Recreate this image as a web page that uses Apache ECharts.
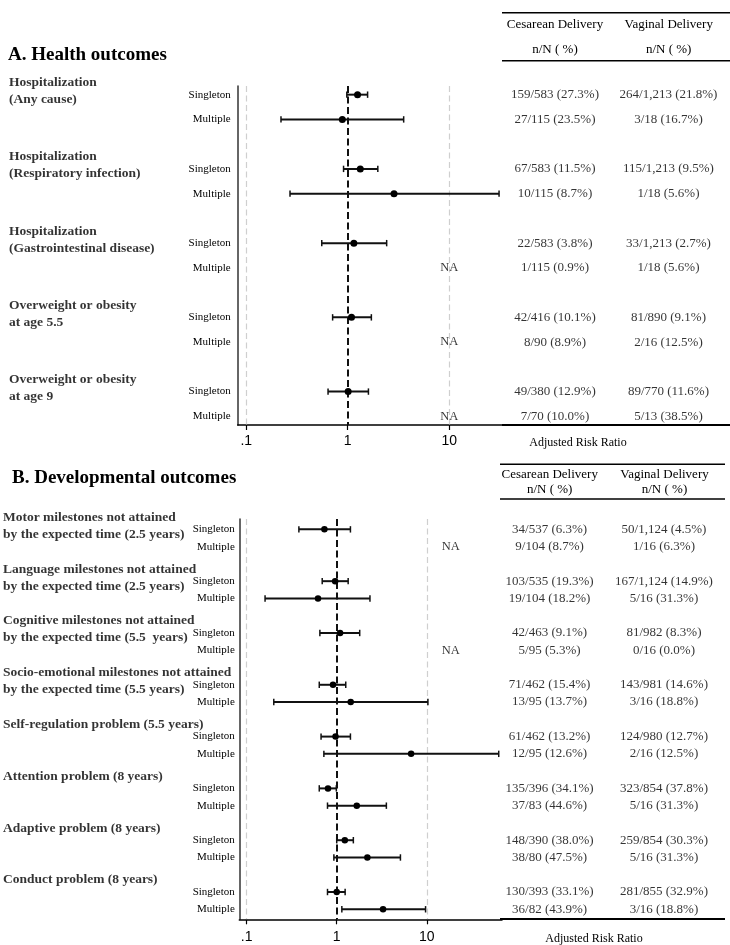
<!DOCTYPE html>
<html lang="en">
<head>
<meta charset="UTF-8">
<script src="https://cdn.jsdelivr.net/npm/echarts@6.0.0/dist/echarts.min.js"></script>
<title>Forest plot</title>
<style>
    html, body { margin: 0; padding: 0; background: #fff; }
    #main { width: 730px; height: 945px; }
</style>
</head>
<body>
<div id="main"></div>
<script type="text/javascript">
    // x axis ticks (risk ratio, log scale)
    var tickValues = [0.1, 1, 10];
    var tickLabels = ['.1', '1', '10'];
    var deliveryGroups = ['Cesarean Delivery', 'Vaginal Delivery'];

    // A. Health outcomes
    var healthOutcomes = ['Hospitalization\n(Any cause)', 'Hospitalization\n(Respiratory infection)',
        'Hospitalization\n(Gastrointestinal disease)', 'Overweight or obesity\nat age 5.5', 'Overweight or obesity\nat age 9'];
    var healthSingletonRR = [1.25, 1.33, 1.15, 1.09, 1.01];
    var healthSingletonLow = [0.98, 0.91, 0.555, 0.71, 0.64];
    var healthSingletonHigh = [1.57, 1.98, 2.42, 1.71, 1.60];
    var healthMultipleRR = [0.885, 2.86, null, null, null];
    var healthMultipleLow = [0.22, 0.27, null, null, null];
    var healthMultipleHigh = [3.56, 31, null, null, null];
    var healthCesSingleton = ['159/583 (27.3%)', '67/583 (11.5%)', '22/583 (3.8%)', '42/416 (10.1%)', '49/380 (12.9%)'];
    var healthCesMultiple = ['27/115 (23.5%)', '10/115 (8.7%)', '1/115 (0.9%)', '8/90 (8.9%)', '7/70 (10.0%)'];
    var healthVagSingleton = ['264/1,213 (21.8%)', '115/1,213 (9.5%)', '33/1,213 (2.7%)', '81/890 (9.1%)', '89/770 (11.6%)'];
    var healthVagMultiple = ['3/18 (16.7%)', '1/18 (5.6%)', '1/18 (5.6%)', '2/16 (12.5%)', '5/13 (38.5%)'];

    // B. Developmental outcomes
    var devOutcomes = ['Motor milestones not attained\nby the expected time (2.5 years)',
        'Language milestones not attained\nby the expected time (2.5 years)',
        'Cognitive milestones not attained\nby the expected time (5.5  years)',
        'Socio-emotional milestones not attained\nby the expected time (5.5 years)',
        'Self-regulation problem (5.5 years)', 'Attention problem (8 years)',
        'Adaptive problem (8 years)', 'Conduct problem (8 years)'];
    var devSingletonRR = [0.73, 0.96, 1.09, 0.91, 0.97, 0.80, 1.23, 1.00];
    var devSingletonLow = [0.38, 0.69, 0.65, 0.64, 0.67, 0.64, 1.00, 0.79];
    var devSingletonHigh = [1.42, 1.34, 1.80, 1.26, 1.42, 0.99, 1.53, 1.24];
    var devMultipleRR = [null, 0.62, null, 1.43, 6.7, 1.67, 2.19, 3.27];
    var devMultipleLow = [null, 0.16, null, 0.20, 0.72, 0.79, 0.93, 1.14];
    var devMultipleHigh = [null, 2.34, null, 10.3, 63, 3.56, 5.1, 9.7];
    var devCesSingleton = ['34/537 (6.3%)', '103/535 (19.3%)', '42/463 (9.1%)', '71/462 (15.4%)',
        '61/462 (13.2%)', '135/396 (34.1%)', '148/390 (38.0%)', '130/393 (33.1%)'];
    var devCesMultiple = ['9/104 (8.7%)', '19/104 (18.2%)', '5/95 (5.3%)', '13/95 (13.7%)',
        '12/95 (12.6%)', '37/83 (44.6%)', '38/80 (47.5%)', '36/82 (43.9%)'];
    var devVagSingleton = ['50/1,124 (4.5%)', '167/1,124 (14.9%)', '81/982 (8.3%)', '143/981 (14.6%)',
        '124/980 (12.7%)', '323/854 (37.8%)', '259/854 (30.3%)', '281/855 (32.9%)'];
    var devVagMultiple = ['1/16 (6.3%)', '5/16 (31.3%)', '0/16 (0.0%)', '3/16 (18.8%)',
        '2/16 (12.5%)', '5/16 (31.3%)', '5/16 (31.3%)', '3/16 (18.8%)'];

    var SERIF = '"Liberation Serif", "Times New Roman", serif';
    var SANS = '"Liberation Sans Narrow", "Liberation Sans", Arial, sans-serif';

    function lg(v) { return v == null ? null : Math.log10(v); }

    var grids = [], xAxes = [], yAxes = [], series = [], graphics = [];

    function addPanel(p) {
        var g = grids.length;
        // plot, table, outcome label columns share one row scale
        grids.push({left: p.plotLeft, top: p.top, width: p.plotWidth, height: p.height, outerBoundsMode: 'none'});
        grids.push({left: p.tableLeft, top: p.top, width: p.tableWidth, height: p.height, outerBoundsMode: 'none'});
        grids.push({left: 0, top: p.top, width: 20, height: p.height, outerBoundsMode: 'none'});

        var rows = [];
        p.outcomes.forEach(function (o, i) { rows.push(3 * i, 3 * i + 1); });

        xAxes.push({
            gridIndex: g, type: 'value', min: lg(p.xMin), max: lg(p.xMax),
            axisLine: {show: true, onZero: false, lineStyle: {color: '#000', width: 1.5}},
            axisTick: {show: true, customValues: tickValues.map(lg), length: 5, lineStyle: {color: '#000', width: 1.2}},
            axisLabel: {
                customValues: tickValues.map(lg), margin: p.tickMargin,
                fontFamily: SANS, fontSize: 14, color: '#000',
                formatter: function (v) {
                    for (var k = 0; k < tickValues.length; k++) {
                        if (Math.abs(lg(tickValues[k]) - v) < 1e-6) return tickLabels[k];
                    }
                    return '';
                }
            },
            splitLine: {show: false}
        });
        xAxes.push({gridIndex: g + 1, type: 'category', data: deliveryGroups, show: false});
        xAxes.push({gridIndex: g + 2, type: 'value', min: 0, max: 1, show: false});

        yAxes.push({
            gridIndex: g, type: 'value', inverse: true, min: p.yMin, max: p.yMax,
            axisLine: {show: true, onZero: false, lineStyle: {color: '#333', width: 1.5}},
            axisTick: {show: false},
            splitLine: {show: false},
            axisLabel: {
                customValues: rows, margin: p.rowLabelMargin,
                fontFamily: SERIF, fontSize: 11, color: '#000',
                formatter: function (v) { return v % 3 === 0 ? 'Singleton' : 'Multiple'; }
            }
        });
        yAxes.push({gridIndex: g + 1, type: 'value', inverse: true, min: p.yMin, max: p.yMax, show: false});
        yAxes.push({gridIndex: g + 2, type: 'value', inverse: true, min: p.yMin, max: p.yMax, show: false});

        var bars = [], points = [], na = [], cells = [], titles = [];
        p.outcomes.forEach(function (o, i) {
            bars.push([lg(p.sLow[i]), lg(p.sHigh[i]), 3 * i]);
            points.push([lg(p.sRR[i]), 3 * i]);
            if (p.mRR[i] != null) {
                bars.push([lg(p.mLow[i]), lg(p.mHigh[i]), 3 * i + 1]);
                points.push([lg(p.mRR[i]), 3 * i + 1]);
            } else {
                na.push([lg(p.naX), 3 * i + 1]);
            }
            cells.push({name: p.cesS[i], value: [0, 3 * i]});
            cells.push({name: p.cesM[i], value: [0, 3 * i + 1]});
            cells.push({name: p.vagS[i], value: [1, 3 * i]});
            cells.push({name: p.vagM[i], value: [1, 3 * i + 1]});
            titles.push({name: o, value: [0, 3 * i]});
        });

        series.push({
            type: 'custom', xAxisIndex: g, yAxisIndex: g, z: 3, silent: true,
            encode: {x: [0, 1], y: 2},
            data: bars,
            renderItem: function (params, api) {
                var y = api.value(2);
                var a = api.coord([api.value(0), y]);
                var b = api.coord([api.value(1), y]);
                var h = 3.2;
                var st = {stroke: '#111', lineWidth: 2};
                return {
                    type: 'group',
                    children: [
                        {type: 'line', shape: {x1: a[0], y1: a[1], x2: b[0], y2: b[1]}, style: st},
                        {type: 'line', shape: {x1: a[0], y1: a[1] - h, x2: a[0], y2: a[1] + h}, style: {stroke: '#111', lineWidth: 1.5}},
                        {type: 'line', shape: {x1: b[0], y1: b[1] - h, x2: b[0], y2: b[1] + h}, style: {stroke: '#111', lineWidth: 1.5}}
                    ]
                };
            },
            markLine: {
                silent: true, symbol: 'none', z: 1, label: {show: false}, animation: false,
                data: [
                    {xAxis: lg(tickValues[0]), lineStyle: {color: '#cfcfcf', width: 1.2, type: [6, 3.5]}},
                    {xAxis: lg(tickValues[2]), lineStyle: {color: '#cfcfcf', width: 1.2, type: [6, 3.5]}},
                    {xAxis: lg(tickValues[1]), lineStyle: {color: '#111', width: 2, type: [7, 3.5]}}
                ]
            }
        });
        series.push({
            type: 'scatter', xAxisIndex: g, yAxisIndex: g, z: 4, silent: true,
            symbolSize: p.pointSize, itemStyle: {color: '#000', opacity: 1},
            data: points
        });
        series.push({
            type: 'scatter', xAxisIndex: g, yAxisIndex: g, z: 4, silent: true,
            symbolSize: 1, itemStyle: {color: 'rgba(0,0,0,0)'},
            label: {show: true, position: 'inside', formatter: 'NA', fontFamily: SERIF, fontSize: 12.5, color: '#000'},
            data: na
        });
        series.push({
            type: 'scatter', xAxisIndex: g + 1, yAxisIndex: g + 1, silent: true,
            symbolSize: 1, itemStyle: {color: 'rgba(0,0,0,0)'},
            label: {show: true, position: 'inside', formatter: '{b}', fontFamily: SERIF, fontSize: 13, color: '#000'},
            data: cells
        });
        series.push({
            type: 'scatter', xAxisIndex: g + 2, yAxisIndex: g + 2, silent: true,
            symbolSize: 1, itemStyle: {color: 'rgba(0,0,0,0)'},
            label: {
                show: true, position: 'inside', formatter: '{b}', align: 'left', verticalAlign: 'top',
                offset: [p.titleX, -20.5], lineHeight: 17,
                fontFamily: SERIF, fontWeight: 'bold', fontSize: 13.5, color: '#000'
            },
            data: titles
        });

        // panel heading, table header and rules
        text(p.headX, p.headY, p.heading, 'bold 19px ' + SERIF, 'left');
        hline(p.ruleLeft, p.ruleRight, p.rule1, 1.5);
        hline(p.ruleLeft, p.ruleRight, p.rule2, 1.5);
        hline(p.ruleLeft, p.ruleRight, p.rule3, 2);
        deliveryGroups.forEach(function (d, k) {
            text(p.colX[k], p.hdrY[0], d, '13px ' + SERIF, 'center');
            text(p.colX[k], p.hdrY[1], 'n/N ( %)', '13px ' + SERIF, 'center');
        });
        text(p.xNameX, p.xNameY, 'Adjusted Risk Ratio', '12px ' + SERIF, 'center');
    }

    function hline(x1, x2, y, w) {
        graphics.push({type: 'line', silent: true, shape: {x1: x1, y1: y, x2: x2, y2: y}, style: {stroke: '#000', lineWidth: w}});
    }

    function text(x, y, t, font, align) {
        graphics.push({
            type: 'text', silent: true, x: x, y: y,
            style: {text: t, font: font, fill: '#000', align: align, textAlign: align, verticalAlign: 'middle', textVerticalAlign: 'middle'}
        });
    }

    addPanel({
        heading: 'A. Health outcomes', headX: 8, headY: 55,
        outcomes: healthOutcomes,
        sRR: healthSingletonRR, sLow: healthSingletonLow, sHigh: healthSingletonHigh,
        mRR: healthMultipleRR, mLow: healthMultipleLow, mHigh: healthMultipleHigh,
        cesS: healthCesSingleton, cesM: healthCesMultiple, vagS: healthVagSingleton, vagM: healthVagMultiple,
        plotLeft: 237.7, plotWidth: 265.3, top: 86, height: 339,
        xMin: 0.0824, xMax: 33.9, yMin: -0.35, yMax: 13.35,
        tableLeft: 498.2, tableWidth: 227,
        naX: 10, pointSize: 7, titleX: 9, rowLabelMargin: 7, tickMargin: 9,
        ruleLeft: 502, ruleRight: 730, rule1: 12.7, rule2: 60.7, rule3: 425,
        colX: [555, 668.7], hdrY: [25, 50],
        xNameX: 578, xNameY: 443
    });

    addPanel({
        heading: 'B. Developmental outcomes', headX: 12, headY: 477.7,
        outcomes: devOutcomes,
        sRR: devSingletonRR, sLow: devSingletonLow, sHigh: devSingletonHigh,
        mRR: devMultipleRR, mLow: devMultipleLow, mHigh: devMultipleHigh,
        cesS: devCesSingleton, cesM: devCesMultiple, vagS: devVagSingleton, vagM: devVagMultiple,
        plotLeft: 239.3, plotWidth: 262.7, top: 519, height: 400.3,
        xMin: 0.0828, xMax: 68.5, yMin: -0.6, yMax: 22.58,
        tableLeft: 492.5, tableWidth: 228.6,
        naX: 18.5, pointSize: 6.5, titleX: 3, rowLabelMargin: 4.5, tickMargin: 11,
        ruleLeft: 500, ruleRight: 725, rule1: 464.3, rule2: 499, rule3: 919,
        colX: [549.7, 664.5], hdrY: [474.3, 489.3],
        xNameX: 594, xNameY: 938.5
    });

    var myChart = echarts.init(document.getElementById('main'));
    myChart.setOption({
        animation: false,
        backgroundColor: '#fff',
        grid: grids,
        xAxis: xAxes,
        yAxis: yAxes,
        series: series,
        graphic: graphics
    });
</script>
</body>
</html>
